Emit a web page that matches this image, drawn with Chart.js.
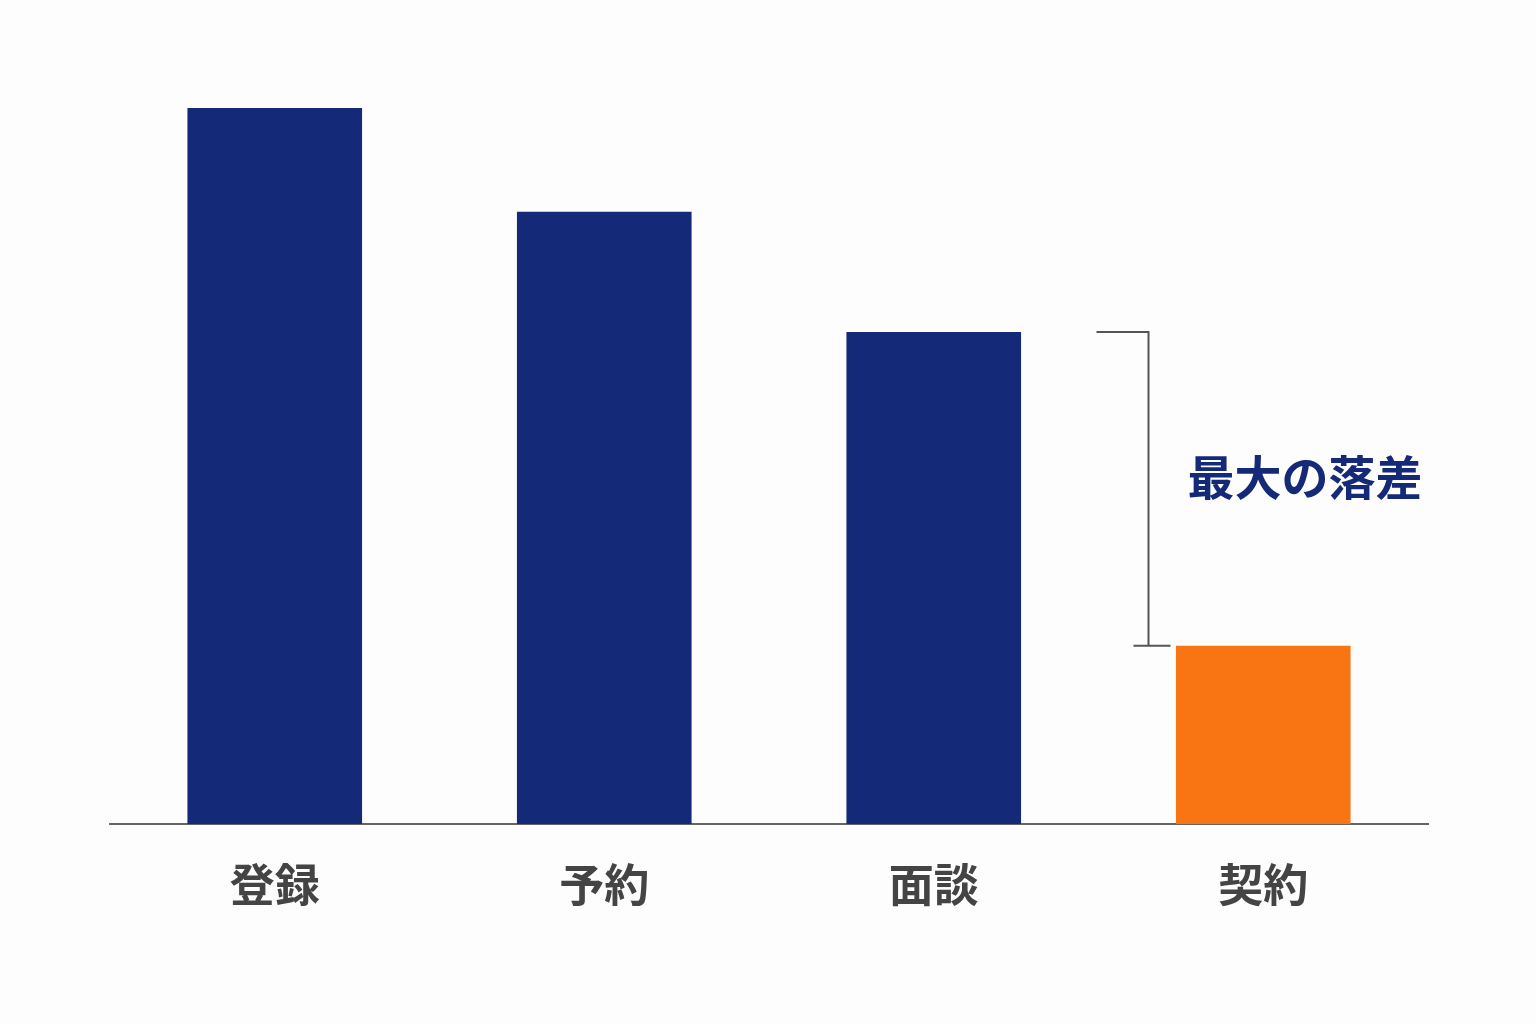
<!DOCTYPE html>
<html><head><meta charset="utf-8">
<script src="https://cdn.jsdelivr.net/npm/chart.js@4"></script>
<style>
html,body{margin:0;background:#fdfdfd;}
#wrap{width:1536px;height:1024px;}
</style></head>
<body><div id="wrap"><canvas id="c"></canvas></div>
<script>
const categories = ["登録", "予約", "面談", "契約"];
const values = [100, 85.5, 68.7, 24.9];
const barColors = ["#142a78", "#142a78", "#142a78", "#f97412"];
const gapLabel = "最大の落差";

// bracket between 面談 and 契約
const bracketPlugin = {
  id: "bracket",
  afterDatasetsDraw(chart) {
    const ctx = chart.ctx, x = chart.scales.x, y = chart.scales.y;
    const mid = (x.getPixelForValue(2) + x.getPixelForValue(3)) / 2;
    const yTop = y.getPixelForValue(values[2]);
    const yBot = y.getPixelForValue(values[3]);
    const bx = mid + 50;
    ctx.save();
    ctx.strokeStyle = "#555";
    ctx.lineWidth = 2;
    ctx.beginPath();
    ctx.moveTo(bx - 52, yTop); ctx.lineTo(bx, yTop); ctx.lineTo(bx, yBot);
    ctx.moveTo(bx - 15, yBot); ctx.lineTo(bx + 22, yBot);
    ctx.stroke();
    ctx.fillStyle = "#142a78";
    ctx.font = "bold 47px 'Noto Sans CJK JP'";
    ctx.textBaseline = "middle";
    ctx.fillText(gapLabel, bx + 39, (yTop + yBot) / 2 - 12);
    ctx.restore();
  }
};

new Chart(document.getElementById("c"), {
  type: "bar",
  data: {
    labels: categories,
    datasets: [{ data: values, backgroundColor: barColors, barPercentage: 0.53, categoryPercentage: 1 }]
  },
  options: {
    responsive: true, maintainAspectRatio: false, animation: false,
    layout: { padding: { top: 108, left: 110, right: 108, bottom: 78 } },
    plugins: { legend: { display: false }, tooltip: { enabled: false } },
    scales: {
      y: { display: false, min: 0, max: 100 },
      x: {
        grid: { display: false, drawTicks: false },
        border: { color: "#666", width: 2 },
        ticks: { color: "#444", padding: 34, font: { size: 45, weight: "bold", family: "'Noto Sans CJK JP'" } }
      }
    }
  },
  plugins: [bracketPlugin]
});
</script></body></html>
